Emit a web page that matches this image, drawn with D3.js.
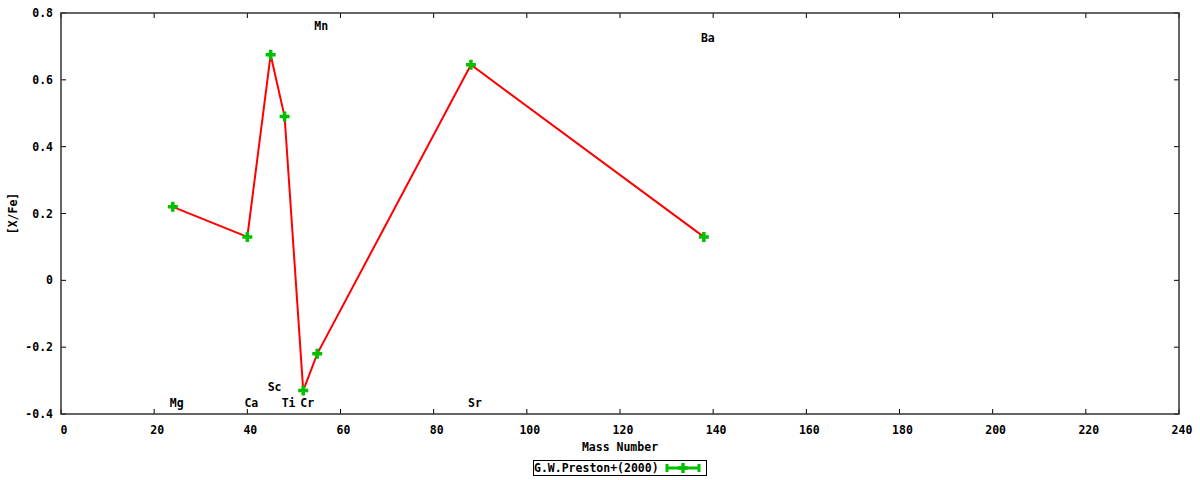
<!DOCTYPE html>
<html><head><meta charset="utf-8">
<script src="https://cdn.jsdelivr.net/npm/d3@7"></script>
<style>body{margin:0;background:#fff}svg text{font-family:"DejaVu Sans Mono",monospace;font-weight:bold;font-size:11.5px;fill:#000}</style>
</head><body><svg id="c" width="1200" height="480"></svg>
<script>
const elements = ["Mg","Ca","Sc","Ti","Cr","Mn","Sr","Ba"];
const massNumbers = [24,40,45,48,52,55,88,138];
const xFe = [0.22,0.13,0.675,0.49,-0.33,-0.22,0.645,0.13];
const labelY = [-0.366,-0.366,-0.318,-0.366,-0.366,0.76,-0.366,0.724];
const xTicks = [0,20,40,60,80,100,120,140,160,180,200,220,240];
const yTicks = [-0.4,-0.2,0,0.2,0.4,0.6,0.8];
const seriesName = "G.W.Preston+(2000)";

const svg = d3.select("#c");
const L=61,R=1179,T=13,B=414;
const x = d3.scaleLinear().domain([0,240]).range([L,R]);
const y = d3.scaleLinear().domain([-0.4,0.8]).range([B,T]);
const fmt = d => d===0 ? "0" : d3.format(".1f")(d).replace("−","-");

// ticks
const tk = 5;
xTicks.forEach(t=>{
  svg.append("line").attr("x1",x(t)).attr("x2",x(t)).attr("y1",B).attr("y2",B-tk).attr("stroke","#000");
  svg.append("line").attr("x1",x(t)).attr("x2",x(t)).attr("y1",T).attr("y2",T+tk).attr("stroke","#000");
  svg.append("text").attr("x",x(t)+3).attr("y",B+20).attr("text-anchor","middle").text(t);
});
yTicks.forEach(t=>{
  svg.append("line").attr("x1",L).attr("x2",L+tk).attr("y1",y(t)).attr("y2",y(t)).attr("stroke","#000");
  svg.append("line").attr("x1",R).attr("x2",R-tk).attr("y1",y(t)).attr("y2",y(t)).attr("stroke","#000");
  svg.append("text").attr("x",L-8).attr("y",y(t)+4).attr("text-anchor","end").text(fmt(t));
});
svg.append("rect").attr("x",L).attr("y",T).attr("width",R-L).attr("height",B-T)
  .attr("fill","none").attr("stroke","#333").attr("stroke-width",1.5);

// labels
elements.forEach((e,i)=>{
  svg.append("text").attr("x",x(massNumbers[i])+4).attr("y",y(labelY[i])+4).attr("text-anchor","middle").text(e);
});

// line
const pts = massNumbers.map((m,i)=>[m,xFe[i]]);
svg.append("path").attr("d",d3.line().x(d=>x(d[0])).y(d=>y(d[1]))(pts))
  .attr("fill","none").attr("stroke","#ff0000").attr("stroke-width",2);

const green="#00c000";
function plus(cx,cy){
  svg.append("path").attr("d",`M${cx-5},${cy}H${cx+5}M${cx},${cy-5}V${cy+5}`)
    .attr("stroke",green).attr("stroke-width",3.5).attr("fill","none");
}
pts.forEach(d=>plus(x(d[0]),y(d[1])));

// axis titles
svg.append("text").attr("x",(L+R)/2).attr("y",451).attr("text-anchor","middle").text("Mass Number");
svg.append("text").attr("transform",`translate(17,${(T+B)/2}) rotate(-90)`).attr("text-anchor","middle").text("[X/Fe]");

// legend
svg.append("rect").attr("x",533.5).attr("y",460.5).attr("width",173).attr("height",15)
  .attr("fill","none").attr("stroke","#000").attr("stroke-width",1);
svg.append("text").attr("x",534).attr("y",472).text(seriesName);
svg.append("path").attr("d","M666,468H700M667,464V472M699,464V472")
  .attr("stroke",green).attr("stroke-width",3).attr("fill","none");
plus(683,468);
</script></body></html>
